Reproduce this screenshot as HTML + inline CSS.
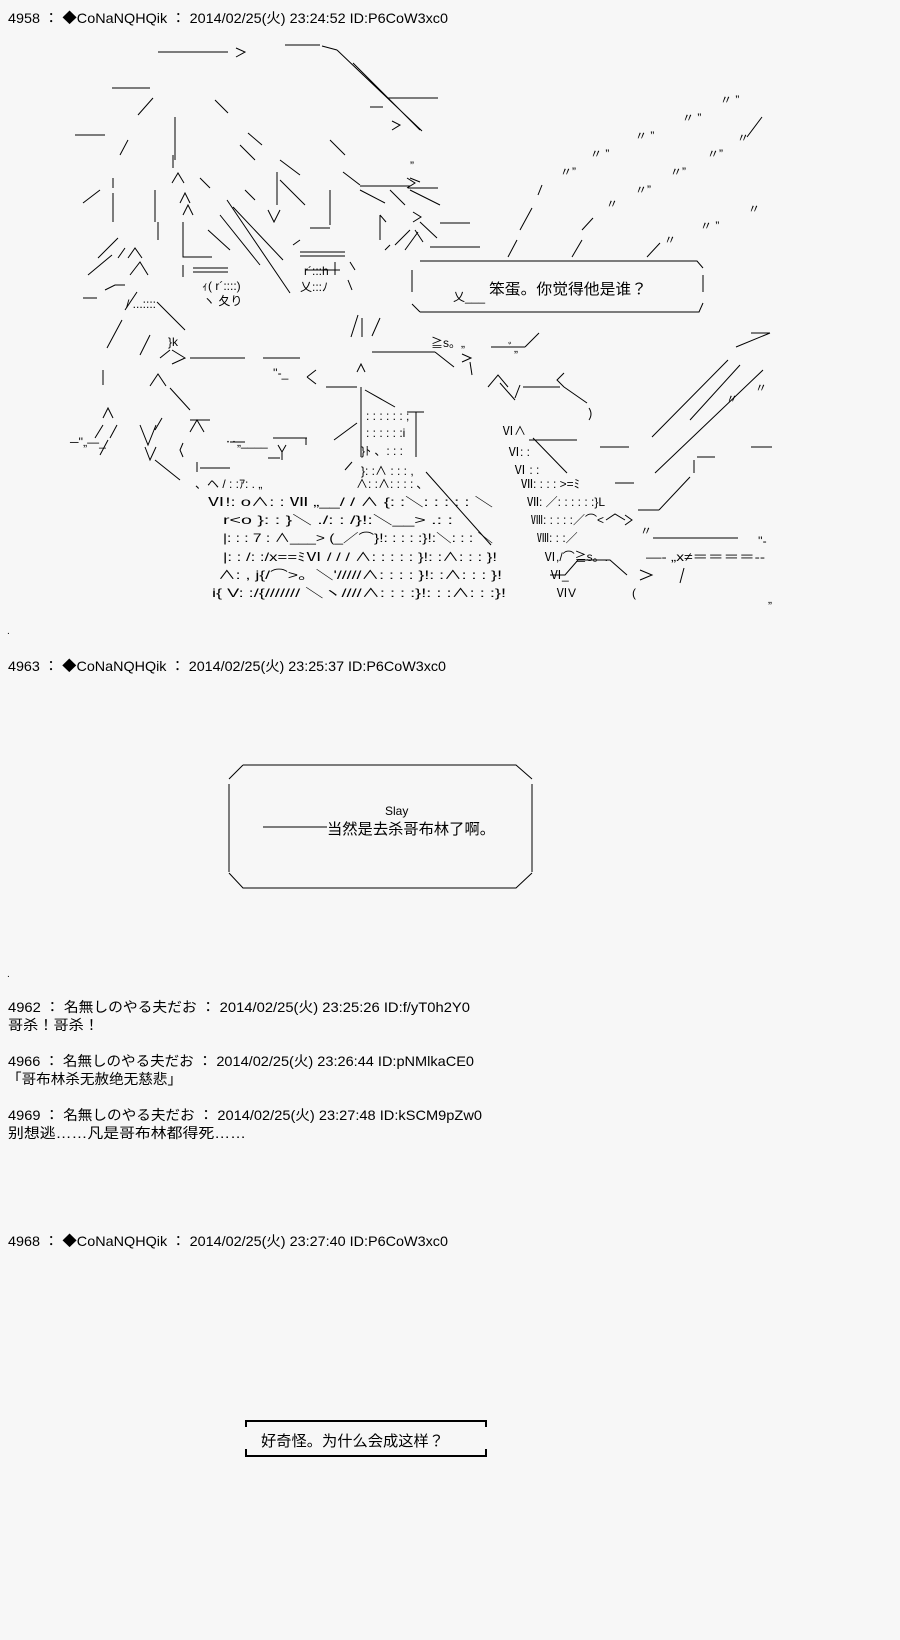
<!DOCTYPE html>
<html><head><meta charset="utf-8"><style>
html,body{margin:0;padding:0;background:#f7f7f7;}
svg{display:block}
text{font-family:"Liberation Sans","Noto Sans CJK JP",sans-serif;fill:#000}
.h{font-size:14px}
.a{font-size:12px}
</style></head><body>
<svg width="900" height="1640" viewBox="0 0 900 1640" xmlns="http://www.w3.org/2000/svg">
<rect width="900" height="1640" fill="#f7f7f7"/>
<text class="h" x="8" y="23" textLength="440" lengthAdjust="spacingAndGlyphs">4958 ： ◆CoNaNQHQik ： 2014/02/25(火) 23:24:52 ID:P6CoW3xc0</text>

<g stroke="#000" stroke-width="1" fill="none">
<!-- hair top -->
<path d="M158 52H228 M236 48L245 52 L236 57 M285 45H320 M322 46L337 50 M337 50L422 131 M353 63L420 130 M388 98H438 M370 107H383 M392 121L400 125L392 130 M112 88H150 M138 115L153 98 M215 100L228 113 M75 135H105 M120 155L128 140 M175 117V160 M173 155V168 M172 183L178 173L184 183 M83 203L100 190 M113 193V222 M113 178V188 M155 190V222 M158 222V240 M180 203L185 193L190 203 M183 215L188 205L193 215 M183 222V257H212 M183 265V277 M193 268H228 M193 272H228"/>
<path d="M227 200L290 293 M233 207L283 260 M220 215L260 265 M208 230L230 250 M245 190L255 200 M200 178L210 188 M240 145L255 160 M280 160L300 175 M248 133L262 145 M330 140L345 155 M277 172V205 M268 210L274 222L280 210 M280 180L305 205 M300 252H345 M300 256H345 M293 245L300 240 M310 228H330 M330 190V225 M343 172L360 185 M360 186H410 M410 178L420 182 M360 190L385 203 M390 190L405 205 M410 190L440 205 M380 215V240 M380 215L386 222 M413 212L421 217L413 222 M440 223H470 M420 222L437 238 M395 245L410 230 M405 250L418 232 M415 230L423 242 M385 250L390 245 M430 247H480 M305 270H340 M335 262V275 M350 262L355 270 M348 280L352 290 M407 178L415 183L407 188 M408 188H438"/>
<!-- left body -->
<path d="M98 258L118 238 M88 275L112 255 M125 248L118 258 M128 258L135 248L142 258 M130 275L140 262L148 275 M83 298H97 M105 290L115 285H125 M125 310L137 292 M157 302L185 330 M107 348L122 320 M140 355L150 335 M160 358L170 350 M172 350L185 358L172 364 M190 358H245 M263 358H300 M103 370V385 M150 386L158 374L166 386 M170 388L190 410 M103 418L108 408L113 418 M95 438L103 425 M110 438L117 425 M140 425L148 445L156 425 M155 430L162 418 M190 432L197 420L204 432 M190 420H210 M100 455L108 440 M145 447L150 460L156 447 M183 443L180 450L183 457 M155 460L180 480 M200 468H230 M197 462V472 M230 442H245"/>
<!-- center body -->
<path d="M351 337L358 315 M362 318V337 M372 336L380 318 M372 352H435 M435 352L454 367 M462 354L471 358L462 362 M491 347H525 M525 347L539 333 M307 377L316 370 M307 377L316 384 M326 387H357 M361 387V457 M357 372L361 364L365 372 M365 390L395 407 M407 412H424 M416 412V457 M426 472L491 545 M334 440L357 423 M273 438H307 M278 445L282 452L286 445 M282 452V460 M268 458H280 M306 438V445 M345 470L352 462 M470 362L472 375 M488 387L498 375L508 387 M523 387H560 M564 373L557 380L564 387 M564 387L587 403 M589 408Q593 414 589 420 M500 383L515 400 M515 398L520 385"/>
<!-- right rays -->
<path d="M736 347L770 333 M751 333H770 M652 437L728 360 M655 473L763 370 M659 510L690 477 M697 457H715 M694 460V473 M751 447H772 M600 447H629 M529 440H577 M533 438L567 473 M615 483H634 M638 510H659 M653 538H738 M606 520L615 514L625 520 M625 515L632 520L625 525 M550 575L565 575L578 560H610L627 575 M640 570L652 575L640 580 M680 583L684 568 M747 137L762 117 M520 230L532 208 M508 257L517 240 M582 230L593 218 M572 257L582 240 M647 257L660 243 M538 195L542 185 M690 420L740 365"/>
<!-- box1 -->
<path d="M420 261H697 L703 268 M412 270V292 M420 312H699 L703 303 M703 275V292 M412 304L420 312"/>
</g>

<g class="a">
<text x="720" y="104">〃 ”</text><text x="682" y="122">〃 ”</text>
<text x="635" y="140">〃 ”</text><text x="590" y="158">〃 ”</text>
<text x="560" y="176">〃”</text><text x="737" y="142">〃</text>
<text x="707" y="158">〃”</text><text x="670" y="176">〃”</text>
<text x="635" y="194">〃”</text><text x="606" y="208">〃</text>
<text x="748" y="213">〃</text><text x="700" y="230">〃 ”</text>
<text x="664" y="244">〃</text>
<text x="410" y="170">”</text>
<text x="453" y="301">乂___</text>
<text x="300" y="291">乂:::ﾉ</text><text x="304" y="275">r´:::h</text>
<text x="202" y="290">ｨ( r´::::)</text><text x="203" y="305">ヽ 夂り</text>
<text x="126" y="308">/ ...::::</text>
<text x="168" y="346">}k</text>
<text x="273" y="377">''‐_</text>
<text x="70" y="446">─''„—_</text>
<text x="225" y="446">‥„____</text>
<text x="508" y="352">ﾞ„</text><text x="431" y="347">≧s。„</text>
<text x="755" y="392">〃</text><text x="726" y="403">〃</text>
<text x="502" y="435">Ⅵ∧</text>
<text x="508" y="456">Ⅵ: :</text>
<text x="514" y="474">Ⅵ : :</text>
<text x="366" y="420">: : : : : : ;</text>
<text x="366" y="437">: : : : : :i</text>
<text x="361" y="455">}ﾄ 、: : :</text>
<text x="361" y="475">}: :∧ : : :  ,</text>
<text x="195" y="488">、ヘ / : :ｱ: . „</text>
<text x="356" y="488">∧: :∧: : : : ､</text>
<text x="521" y="488">Ⅶ: : : : &gt;=ﾐ</text>
<text x="207" y="506" textLength="286" lengthAdjust="spacingAndGlyphs">Ⅵ!: o∧: : Ⅶ    „__/ / ∧ {: :＼: : : : :   ＼</text>
<text x="527" y="506">Ⅶ: ／: : : : : :}L</text>
<text x="223" y="524" textLength="230" lengthAdjust="spacingAndGlyphs">r&lt;o }: : }＼       ./: : /}!:＼__&gt; .: :</text>
<text x="531" y="524">Ⅷ: : : : :／⌒&lt;</text>
<text x="223" y="542" textLength="270" lengthAdjust="spacingAndGlyphs">|: : : 7 : ∧___&gt;    (_／⌒}!: : : : :}!:＼: : :  ＼</text>
<text x="537" y="542">Ⅷ: : :／</text>
<text x="223" y="561" textLength="274" lengthAdjust="spacingAndGlyphs">|: : /: :/x==ﾐⅥ   / / / ∧: : : : : }!: :∧: : : }!</text>
<text x="544" y="561">Ⅵ,/⌒≧s。.</text><text x="646" y="561" textLength="119" lengthAdjust="spacingAndGlyphs">—‐  „x≠＝＝＝＝‐-</text>
<text x="218" y="579" textLength="284" lengthAdjust="spacingAndGlyphs">∧: ,  j{/⌒&gt;。＼'/////∧: : : : }!: :∧: : : }!</text>
<text x="550" y="579">Ⅵ_</text>
<text x="212" y="597" textLength="294" lengthAdjust="spacingAndGlyphs">i{  V: :/{/////// ＼ヽ////∧: : : :}!: : :∧: : :}!</text>
<text x="556" y="597">ⅥV</text><text x="632" y="597">(</text>
<text x="758" y="545">''-</text><text x="640" y="535">〃</text><text x="768" y="603">„</text>
</g>

<text x="489" y="294" font-size="15" textLength="158" lengthAdjust="spacingAndGlyphs">笨蛋。你觉得他是谁？</text>
<text x="7" y="634" font-size="10">.</text>

<text class="h" x="8" y="671" textLength="438" lengthAdjust="spacingAndGlyphs">4963 ： ◆CoNaNQHQik ： 2014/02/25(火) 23:25:37 ID:P6CoW3xc0</text>
<g stroke="#000" stroke-width="1" fill="none">
<path d="M243 765H516 L532 779 M229 779L243 765 M229 784V872 M532 784V872 M229 873L243 888H516L532 873"/>
<path d="M263 827H327"/>
</g>
<text x="385" y="815" font-size="12">Slay</text>
<text x="327" y="834" font-size="15" textLength="168" lengthAdjust="spacingAndGlyphs">当然是去杀哥布林了啊。</text>

<text x="7" y="977" font-size="10">.</text>
<text class="h" x="8" y="1012" textLength="462" lengthAdjust="spacingAndGlyphs">4962 ： 名無しのやる夫だお ： 2014/02/25(火) 23:25:26 ID:f/yT0h2Y0</text>
<text class="h" x="8" y="1030" textLength="91" lengthAdjust="spacingAndGlyphs">哥杀！哥杀！</text>
<text class="h" x="8" y="1066" textLength="466" lengthAdjust="spacingAndGlyphs">4966 ： 名無しのやる夫だお ： 2014/02/25(火) 23:26:44 ID:pNMlkaCE0</text>
<text class="h" x="7" y="1084" textLength="175" lengthAdjust="spacingAndGlyphs">「哥布林杀无赦绝无慈悲」</text>
<text class="h" x="8" y="1120" textLength="474" lengthAdjust="spacingAndGlyphs">4969 ： 名無しのやる夫だお ： 2014/02/25(火) 23:27:48 ID:kSCM9pZw0</text>
<text class="h" x="8" y="1138" textLength="238" lengthAdjust="spacingAndGlyphs">别想逃……凡是哥布林都得死……</text>
<text class="h" x="8" y="1246" textLength="440" lengthAdjust="spacingAndGlyphs">4968 ： ◆CoNaNQHQik ： 2014/02/25(火) 23:27:40 ID:P6CoW3xc0</text>

<g stroke="#000" stroke-width="2" fill="none">
<path d="M246 1427V1421H486V1427 M246 1449V1456H486V1449"/>
</g>
<text x="261" y="1446" font-size="15" textLength="183" lengthAdjust="spacingAndGlyphs">好奇怪。为什么会成这样？</text>
</svg>
</body></html>
